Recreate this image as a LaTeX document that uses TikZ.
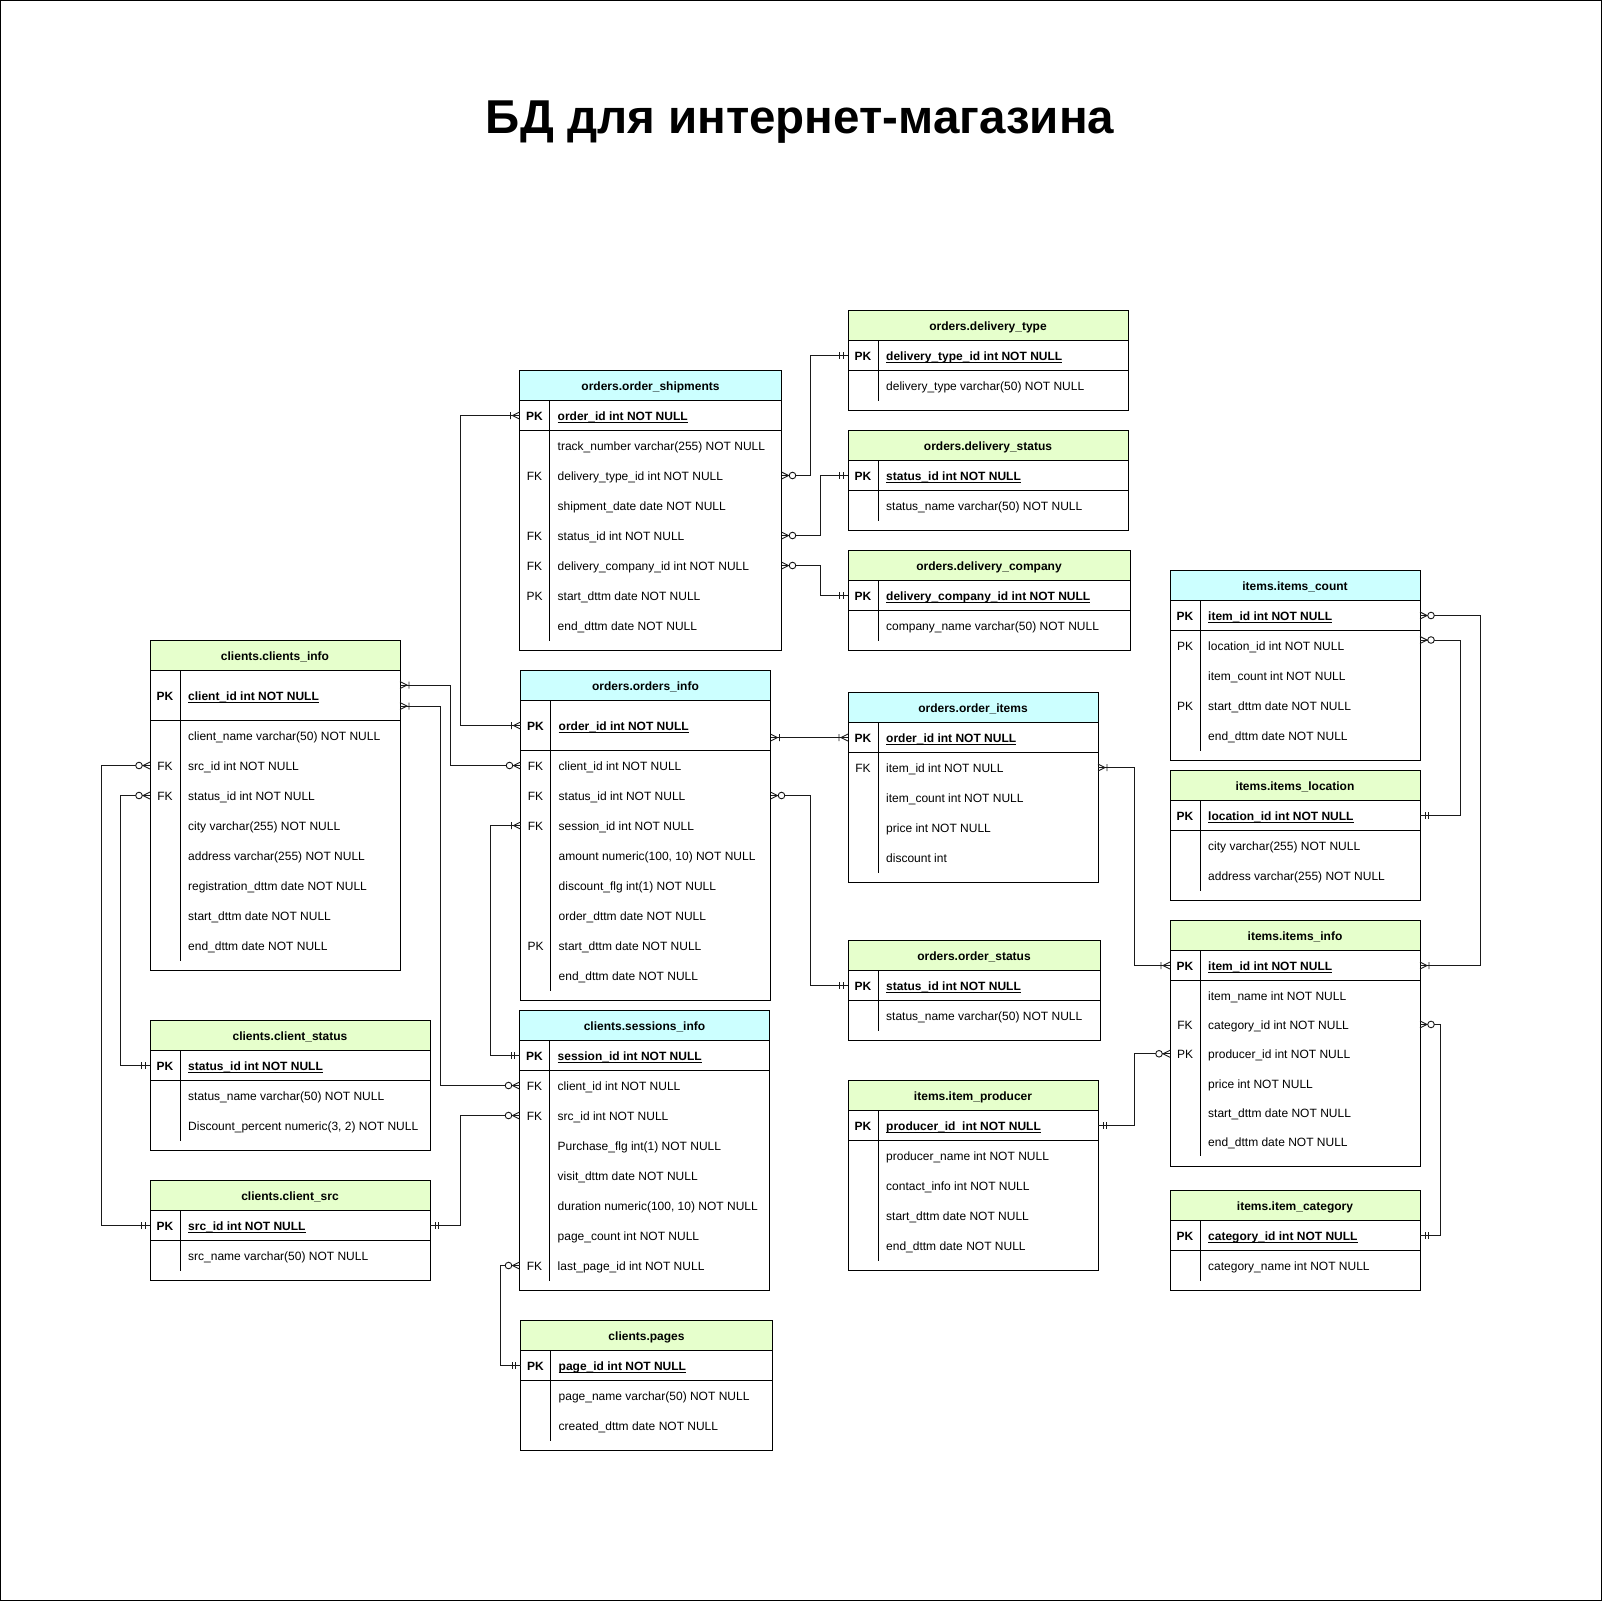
\documentclass[tikz,border=0pt]{standalone}
\usepackage{fontspec}
\setmainfont{Liberation Sans}
\usetikzlibrary{calc}
\definecolor{hdrCyan}{HTML}{CCFFFF}
\definecolor{hdrGreen}{HTML}{E6FFCC}
\definecolor{relGray}{HTML}{1A1A1A}
\tikzset{
    tbl/.style={draw=black,line width=1pt,inner sep=0pt,outer sep=0pt},
    tline/.style={draw=black,line width=1pt},
    thead/.style={inner sep=0pt,font=\fontsize{12}{14}\selectfont\bfseries,
        text height=10.4pt,text depth=0pt},
    field/.style={anchor=west,inner sep=0pt,font=\fontsize{12}{14}\selectfont,
        text height=10.4pt,text depth=0pt},
    key/.style={inner sep=0pt,font=\fontsize{12}{14}\selectfont,
        text height=10.4pt,text depth=0pt},
    keyb/.style={key,font=\fontsize{12}{14}\selectfont\bfseries},
    rel/.style={draw=relGray,line width=1pt},
    mk/.style={draw=relGray,line width=0.9pt},
    zmany/.pic={\draw[mk] (0,-3.5) -- (-7,0) -- (0,3.5);
        \draw[mk,fill=white] (-11,0) circle (3.3);},
    onemany/.pic={\draw[mk] (0,-3.5) -- (-7,0) -- (0,3.5) (-9,-3.5) -- (-9,3.5);},
    mone/.pic={\draw[mk] (-5,-3.5) -- (-5,3.5) (-8.5,-3.5) -- (-8.5,3.5);}
}
\newcommand{\pkline}[1]{\setbox0\hbox{\bfseries #1}\rlap{\rule[-1.7pt]{\wd0}{0.9pt}}\box0}
\newcommand{\rowh}{30}
% #1 pk row height, #2 name, #3 x, #4 top, #5 width, #6 fill, #7 title, #8 pk field, #9 rows
\newcommand{\ertable}[9][30]{%
    \pgfmathsetmacro{\tHb}{#4+30}%
    \pgfmathsetmacro{\tPb}{\tHb+#1}%
    \fill[#6] (#3,#4) rectangle ++(#5,30);
    \node[thead] (#2-t) at (#3+#5/2,#4+15) {#7};
    \node[keyb] at (#3+15,\tHb+#1/2) {PK};
    \node[field] (#2-0) at (#3+38,\tHb+#1/2) {\pkline{#8}};
    \foreach \k/\f [count=\i] in {#9} {
        \node[key] at (#3+15,\tPb+\rowh*\i-\rowh/2) {\k};
        \node[field] (#2-\i) at (#3+38,\tPb+\rowh*\i-\rowh/2) {\f};
        \xdef\nrow{\i}
    }
    \pgfmathsetmacro{\tBb}{\tPb+\rowh*\nrow+10}%
    \pgfmathsetmacro{\tHh}{\tBb-#4}%
    \node[tbl,minimum width=#5pt,minimum height=\tHh pt,anchor=north west] (#2) at (#3,#4) {};
    \draw[tline] (#3,\tHb) -- ++(#5,0) (#3,\tPb) -- ++(#5,0) (#3+30,\tHb) -- (#3+30,\tBb-10);
}
\begin{document}
\begin{tikzpicture}[x=1pt,y=-1pt]
    \useasboundingbox (0,0) rectangle (1602,1601);
    \draw[line width=1pt] (0.5,0.5) rectangle (1601.5,1600.5);
    \node[anchor=base,inner sep=0pt,font=\fontsize{47.5}{56}\selectfont\bfseries] (title) at (800,133) {БД для интернет-магазина};

    \ertable[50]{ci}{150}{640.5}{250}{hdrGreen}{clients.clients\_info}{client\_id int NOT NULL}{
        /client\_name varchar(50) NOT NULL,
        FK/src\_id int NOT NULL,
        FK/status\_id int NOT NULL,
        /city varchar(255) NOT NULL,
        /address varchar(255) NOT NULL,
        /registration\_dttm date NOT NULL,
        /start\_dttm date NOT NULL,
        /end\_dttm date NOT NULL}
    \ertable{cst}{150}{1020.5}{280}{hdrGreen}{clients.client\_status}{status\_id int NOT NULL}{
        /status\_name varchar(50) NOT NULL,
        /{Discount\_percent numeric(3, 2) NOT NULL}}
    \ertable{csrc}{150}{1180.5}{280}{hdrGreen}{clients.client\_src}{src\_id int NOT NULL}{
        /src\_name varchar(50) NOT NULL}
    \ertable{osh}{519.5}{370.5}{262}{hdrCyan}{orders.order\_shipments}{order\_id int NOT NULL}{
        /track\_number varchar(255) NOT NULL,
        FK/delivery\_type\_id int NOT NULL,
        /shipment\_date date NOT NULL,
        FK/status\_id int NOT NULL,
        FK/delivery\_company\_id int NOT NULL,
        PK/start\_dttm date NOT NULL,
        /end\_dttm date NOT NULL}
    \ertable[50]{oi}{520.5}{670.5}{250}{hdrCyan}{orders.orders\_info}{order\_id int NOT NULL}{
        FK/client\_id int NOT NULL,
        FK/status\_id int NOT NULL,
        FK/session\_id int NOT NULL,
        /{amount numeric(100, 10) NOT NULL},
        /discount\_flg int(1) NOT NULL,
        /order\_dttm date NOT NULL,
        PK/start\_dttm date NOT NULL,
        /end\_dttm date NOT NULL}
    \ertable{si}{519.5}{1010.5}{250}{hdrCyan}{clients.sessions\_info}{session\_id int NOT NULL}{
        FK/client\_id int NOT NULL,
        FK/src\_id int NOT NULL,
        /Purchase\_flg int(1) NOT NULL,
        /visit\_dttm date NOT NULL,
        /{duration numeric(100, 10) NOT NULL},
        /page\_count int NOT NULL,
        FK/last\_page\_id int NOT NULL}
    \ertable{pg}{520.5}{1320.5}{252}{hdrGreen}{clients.pages}{page\_id int NOT NULL}{
        /page\_name varchar(50) NOT NULL,
        /created\_dttm date NOT NULL}
    \ertable{dt}{848}{310.5}{280}{hdrGreen}{orders.delivery\_type}{delivery\_type\_id int NOT NULL}{
        /delivery\_type varchar(50) NOT NULL}
    \ertable{ds}{848}{430.5}{280}{hdrGreen}{orders.delivery\_status}{status\_id int NOT NULL}{
        /status\_name varchar(50) NOT NULL}
    \ertable{dc}{848}{550.5}{282}{hdrGreen}{orders.delivery\_company}{delivery\_company\_id int NOT NULL}{
        /company\_name varchar(50) NOT NULL}
    \ertable{oit}{848}{692.5}{250}{hdrCyan}{orders.order\_items}{order\_id int NOT NULL}{
        FK/item\_id int NOT NULL,
        /item\_count int NOT NULL,
        /price int NOT NULL,
        /discount int}
    \ertable{ost}{848}{940.5}{252}{hdrGreen}{orders.order\_status}{status\_id int NOT NULL}{
        /status\_name varchar(50) NOT NULL}
    \ertable{ipr}{848}{1080.5}{250}{hdrGreen}{items.item\_producer}{producer\_id\ \ int NOT NULL}{
        /producer\_name int NOT NULL,
        /contact\_info int NOT NULL,
        /start\_dttm date NOT NULL,
        /end\_dttm date NOT NULL}
    \ertable{icn}{1170}{570.5}{250}{hdrCyan}{items.items\_count}{item\_id int NOT NULL}{
        PK/location\_id int NOT NULL,
        /item\_count int NOT NULL,
        PK/start\_dttm date NOT NULL,
        /end\_dttm date NOT NULL}
    \ertable{iloc}{1170}{770.5}{250}{hdrGreen}{items.items\_location}{location\_id int NOT NULL}{
        /city varchar(255) NOT NULL,
        /address varchar(255) NOT NULL}
    {\renewcommand{\rowh}{29.3}
    \ertable{iinf}{1170}{920.5}{250}{hdrGreen}{items.items\_info}{item\_id int NOT NULL}{
        /item\_name int NOT NULL,
        FK/category\_id int NOT NULL,
        PK/producer\_id int NOT NULL,
        /price int NOT NULL,
        /start\_dttm date NOT NULL,
        /end\_dttm date NOT NULL}}
    \ertable{icat}{1170}{1190.5}{250}{hdrGreen}{items.item\_category}{category\_id int NOT NULL}{
        /category\_name int NOT NULL}

    \draw[rel] (ci.west |- ci-2) -- ++(-49,0) |- (csrc.west |- csrc-0);
    \draw[rel] (ci.west |- ci-3) -- ++(-29.5,0) |- (cst.west |- cst-0);
    \draw[rel] ($(ci.east |- ci-0)+(0,-10.5)$) -- ++(50.5,0) |- (oi.west |- oi-1);
    \draw[rel] ($(ci.east |- ci-0)+(0,10.5)$) -- ++(40.5,0) |- (si.west |- si-1);
    \draw[rel] (osh.west |- osh-0) -- ++(-59,0) |- (oi.west |- oi-0);
    \draw[rel] (oi.west |- oi-3) -- ++(-30,0) |- (si.west |- si-0);
    \draw[rel] (csrc.east |- csrc-0) -- ++(30.5,0) |- (si.west |- si-2);
    \draw[rel] (si.west |- si-7) -- ++(-19.5,0) |- (pg.west |- pg-0);
    \draw[rel] (osh.east |- osh-2) -- ++(28.5,0) |- (dt.west |- dt-0);
    \draw[rel] (osh.east |- osh-4) -- ++(39,0) |- (ds.west |- ds-0);
    \draw[rel] (osh.east |- osh-5) -- ++(39,0) |- (dc.west |- dc-0);
    \draw[rel] (oi.east |- oit-0) -- (oit.west |- oit-0);
    \draw[rel] (oi.east |- oi-2) -- ++(39.5,0) |- (ost.west |- ost-0);
    \draw[rel] (oit.east |- oit-1) -- ++(36.5,0) |- (iinf.west |- iinf-0);
    \draw[rel] (icn.east |- icn-0) -- ++(60.5,0) |- (iinf.east |- iinf-0);
    \draw[rel] ($(icn.east |- icn-1)+(0,-5.5)$) -- ++(40.5,0) |- (iloc.east |- iloc-0);
    \draw[rel] (iinf.east |- iinf-2) -- ++(20.5,0) |- (icat.east |- icat-0);
    \draw[rel] (iinf.west |- iinf-3) -- ++(-35.5,0) |- (ipr.east |- ipr-0);

    \pic at (ci.west |- ci-2) {zmany};
    \pic at (csrc.west |- csrc-0) {mone};
    \pic at (ci.west |- ci-3) {zmany};
    \pic at (cst.west |- cst-0) {mone};
    \pic[xscale=-1] at ($(ci.east |- ci-0)+(0,-10.5)$) {onemany};
    \pic at (oi.west |- oi-1) {zmany};
    \pic[xscale=-1] at ($(ci.east |- ci-0)+(0,10.5)$) {onemany};
    \pic at (si.west |- si-1) {zmany};
    \pic at (osh.west |- osh-0) {onemany};
    \pic at (oi.west |- oi-0) {onemany};
    \pic at (oi.west |- oi-3) {onemany};
    \pic at (si.west |- si-0) {mone};
    \pic[xscale=-1] at (csrc.east |- csrc-0) {mone};
    \pic at (si.west |- si-2) {zmany};
    \pic at (si.west |- si-7) {zmany};
    \pic at (pg.west |- pg-0) {mone};
    \pic[xscale=-1] at (osh.east |- osh-2) {zmany};
    \pic at (dt.west |- dt-0) {mone};
    \pic[xscale=-1] at (osh.east |- osh-4) {zmany};
    \pic at (ds.west |- ds-0) {mone};
    \pic[xscale=-1] at (osh.east |- osh-5) {zmany};
    \pic at (dc.west |- dc-0) {mone};
    \pic[xscale=-1] at (oi.east |- oit-0) {onemany};
    \pic at (oit.west |- oit-0) {onemany};
    \pic[xscale=-1] at (oi.east |- oi-2) {zmany};
    \pic at (ost.west |- ost-0) {mone};
    \pic[xscale=-1] at (oit.east |- oit-1) {onemany};
    \pic at (iinf.west |- iinf-0) {onemany};
    \pic[xscale=-1] at (icn.east |- icn-0) {zmany};
    \pic[xscale=-1] at (iinf.east |- iinf-0) {onemany};
    \pic[xscale=-1] at ($(icn.east |- icn-1)+(0,-5.5)$) {zmany};
    \pic[xscale=-1] at (iloc.east |- iloc-0) {mone};
    \pic[xscale=-1] at (iinf.east |- iinf-2) {zmany};
    \pic[xscale=-1] at (icat.east |- icat-0) {mone};
    \pic at (iinf.west |- iinf-3) {zmany};
    \pic[xscale=-1] at (ipr.east |- ipr-0) {mone};
\end{tikzpicture}
\end{document}
